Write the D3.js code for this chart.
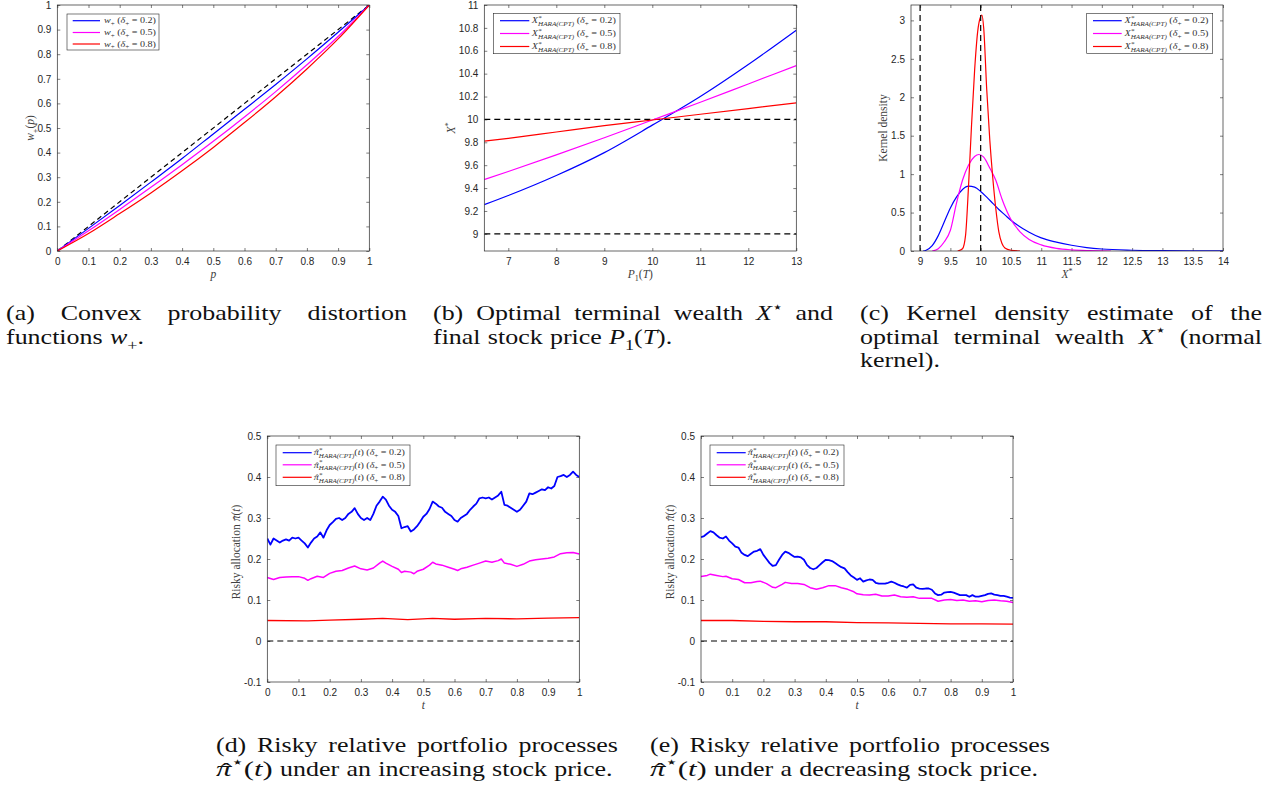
<!DOCTYPE html>
<meta charset="utf-8">
<script src="https://d3js.org/d3.v7.min.js"></script>
<style>
  body { margin: 0; background: #fff; }
</style>
<div id="fig"></div>
<script>

// ---------- data ----------

// (a) convex probability distortion functions
var pGrid = [0, 0.1, 0.2, 0.3, 0.4, 0.5, 0.6, 0.7, 0.8, 0.9, 1];
var wDelta02 = [0, 0.092, 0.185, 0.28, 0.376, 0.476, 0.576, 0.677, 0.781, 0.889, 1];
var wDelta05 = [0, 0.082, 0.169, 0.259, 0.351, 0.446, 0.545, 0.648, 0.757, 0.872, 1];
var wDelta08 = [0, 0.071, 0.152, 0.236, 0.326, 0.421, 0.522, 0.627, 0.74, 0.862, 1];

// (b) optimal terminal wealth vs final stock price
var priceGrid = [6.5, 7, 8, 9, 10, 11, 12, 13];
var wealth02 = [9.255, 9.335, 9.51, 9.71, 9.95, 10.2, 10.48, 10.78];
var wealth05 = [9.475, 9.545, 9.69, 9.84, 9.995, 10.15, 10.31, 10.47];
var wealth08 = [9.81, 9.835, 9.89, 9.945, 9.995, 10.045, 10.095, 10.145];

// (c) kernel density estimates
var kdeX02 = [9.05, 9.1, 9.2, 9.3, 9.4, 9.5, 9.6, 9.7, 9.8, 9.9, 10.0, 10.1, 10.2, 10.3, 10.4, 10.5, 10.6, 10.7, 10.8, 11.0, 11.25, 11.5, 11.75, 12, 12.5, 13, 13.5, 14];
var kdeY02 = [0, 0.01, 0.07, 0.2, 0.38, 0.56, 0.7, 0.8, 0.843, 0.83, 0.775, 0.7, 0.62, 0.54, 0.47, 0.4, 0.34, 0.29, 0.245, 0.17, 0.115, 0.075, 0.045, 0.026, 0.01, 0.004, 0.002, 0.001];
var kdeX05 = [9.2, 9.3, 9.4, 9.5, 9.6, 9.7, 9.8, 9.9, 9.97, 10.05, 10.15, 10.25, 10.35, 10.5, 10.65, 10.8, 11.0, 11.25, 11.5, 11.8, 12.15];
var kdeY05 = [0, 0.03, 0.12, 0.27, 0.62, 0.92, 1.12, 1.23, 1.255, 1.22, 1.08, 0.92, 0.68, 0.41, 0.25, 0.15, 0.08, 0.035, 0.015, 0.005, 0];
var kdeX08 = [9.62, 9.7, 9.75, 9.8, 9.85, 9.9, 9.95, 10.0, 10.02, 10.05, 10.1, 10.15, 10.2, 10.25, 10.3, 10.35, 10.4, 10.5, 10.65];
var kdeY08 = [0, 0.03, 0.2, 0.85, 1.65, 2.35, 2.85, 3.05, 3.07, 2.9, 2.1, 1.45, 0.95, 0.55, 0.25, 0.1, 0.04, 0.01, 0];

// (d) risky allocation, increasing stock price (t = 0, 0.01, ..., 1)
var tSteps = d3.range(101).map(function (i) { return i / 100; });
var upBlue = [
  0.25, 0.235, 0.25, 0.245, 0.24, 0.245, 0.248, 0.245, 0.252, 0.25,
  0.252, 0.245, 0.238, 0.228, 0.24, 0.25, 0.255, 0.265, 0.252, 0.27,
  0.283, 0.29, 0.298, 0.3, 0.295, 0.30, 0.31, 0.315, 0.324, 0.31,
  0.30, 0.295, 0.30, 0.295, 0.31, 0.33, 0.34, 0.352, 0.345, 0.33,
  0.32, 0.315, 0.305, 0.275, 0.278, 0.28, 0.267, 0.272, 0.28, 0.291,
  0.303, 0.31, 0.322, 0.34, 0.335, 0.328, 0.325, 0.315, 0.31, 0.305,
  0.295, 0.291, 0.30, 0.305, 0.31, 0.32, 0.328, 0.335, 0.348, 0.35,
  0.348, 0.35, 0.345, 0.35, 0.355, 0.364, 0.332, 0.33, 0.325, 0.32,
  0.315, 0.32, 0.33, 0.34, 0.36, 0.358, 0.362, 0.366, 0.37, 0.368,
  0.375, 0.372, 0.378, 0.4, 0.402, 0.405, 0.40, 0.405, 0.413, 0.405,
  0.40
];
var upMagentaT = [0, 0.02, 0.04, 0.06, 0.08, 0.10, 0.12, 0.13, 0.14, 0.16, 0.18, 0.20, 0.22, 0.24, 0.26, 0.28, 0.30, 0.32, 0.34, 0.36, 0.37, 0.38, 0.40, 0.42, 0.43, 0.44, 0.46, 0.47, 0.48, 0.50, 0.52, 0.53, 0.54, 0.56, 0.58, 0.60, 0.61, 0.62, 0.64, 0.66, 0.68, 0.70, 0.72, 0.74, 0.75, 0.76, 0.78, 0.80, 0.82, 0.84, 0.86, 0.88, 0.90, 0.92, 0.94, 0.96, 0.98, 1.0];
var upMagenta = [0.155, 0.15, 0.155, 0.156, 0.157, 0.157, 0.153, 0.148, 0.152, 0.158, 0.155, 0.165, 0.17, 0.172, 0.178, 0.183, 0.176, 0.173, 0.178, 0.19, 0.195, 0.19, 0.182, 0.175, 0.167, 0.17, 0.168, 0.164, 0.17, 0.175, 0.185, 0.192, 0.188, 0.185, 0.18, 0.175, 0.172, 0.176, 0.18, 0.185, 0.19, 0.195, 0.192, 0.196, 0.2, 0.19, 0.187, 0.182, 0.187, 0.195, 0.198, 0.2, 0.202, 0.205, 0.213, 0.215, 0.216, 0.212];
var upRedT = [0, 0.13, 0.2, 0.3, 0.37, 0.45, 0.53, 0.6, 0.7, 0.8, 0.9, 1.0];
var upRed = [0.05, 0.049, 0.051, 0.053, 0.055, 0.052, 0.055, 0.053, 0.055, 0.054, 0.056, 0.057];

// (e) risky allocation, decreasing stock price (t = 0, 0.01, ..., 1)
var downBlue = [
  0.253, 0.256, 0.262, 0.268, 0.265, 0.258, 0.252, 0.25, 0.255, 0.245,
  0.238, 0.23, 0.228, 0.215, 0.21, 0.207, 0.213, 0.218, 0.22, 0.224,
  0.21, 0.2, 0.19, 0.183, 0.185, 0.198, 0.21, 0.218, 0.215, 0.21,
  0.205, 0.206, 0.204, 0.198, 0.185, 0.178, 0.175, 0.178, 0.185, 0.192,
  0.198, 0.197, 0.195, 0.19, 0.185, 0.18, 0.177, 0.168, 0.16, 0.155,
  0.149, 0.153, 0.145, 0.148, 0.15, 0.149, 0.142, 0.14, 0.14, 0.14,
  0.142, 0.145, 0.142, 0.138, 0.135, 0.133, 0.13, 0.137, 0.138, 0.13,
  0.128, 0.127, 0.128, 0.128, 0.125, 0.116, 0.112, 0.113, 0.118, 0.119,
  0.12, 0.118, 0.115, 0.112, 0.112, 0.112, 0.108, 0.112, 0.108, 0.108,
  0.11, 0.112, 0.115, 0.116, 0.113, 0.112, 0.11, 0.11, 0.108, 0.106,
  0.105
];
var downMagentaT = [0, 0.02, 0.03, 0.05, 0.07, 0.08, 0.10, 0.12, 0.14, 0.16, 0.18, 0.19, 0.21, 0.23, 0.24, 0.26, 0.27, 0.29, 0.31, 0.33, 0.35, 0.37, 0.39, 0.41, 0.43, 0.45, 0.47, 0.49, 0.50, 0.52, 0.54, 0.56, 0.58, 0.60, 0.62, 0.64, 0.66, 0.68, 0.70, 0.72, 0.74, 0.76, 0.78, 0.80, 0.82, 0.84, 0.86, 0.88, 0.90, 0.92, 0.94, 0.96, 0.98, 1.0];
var downMagenta = [0.157, 0.16, 0.163, 0.16, 0.157, 0.158, 0.152, 0.15, 0.142, 0.142, 0.145, 0.146, 0.14, 0.131, 0.13, 0.138, 0.143, 0.14, 0.14, 0.138, 0.13, 0.126, 0.13, 0.135, 0.135, 0.13, 0.126, 0.12, 0.115, 0.113, 0.112, 0.114, 0.11, 0.11, 0.112, 0.108, 0.107, 0.108, 0.104, 0.104, 0.104, 0.097, 0.1, 0.101, 0.099, 0.1, 0.097, 0.098, 0.096, 0.099, 0.1, 0.098, 0.097, 0.094];
var downRedT = [0, 0.1, 0.2, 0.3, 0.4, 0.5, 0.6, 0.7, 0.8, 0.9, 1.0];
var downRed = [0.05, 0.05, 0.048, 0.047, 0.047, 0.045, 0.044, 0.043, 0.042, 0.042, 0.041];

// tick values and labels
var unitTicks = [0, 0.1, 0.2, 0.3, 0.4, 0.5, 0.6, 0.7, 0.8, 0.9, 1];
var unitTickLabels = ["0", "0.1", "0.2", "0.3", "0.4", "0.5", "0.6", "0.7", "0.8", "0.9", "1"];
var priceTicks = [7, 8, 9, 10, 11, 12, 13];
var priceTickLabels = ["7", "8", "9", "10", "11", "12", "13"];
var wealthTicks = [9, 9.2, 9.4, 9.6, 9.8, 10, 10.2, 10.4, 10.6, 10.8, 11];
var wealthTickLabels = ["9", "9.2", "9.4", "9.6", "9.8", "10", "10.2", "10.4", "10.6", "10.8", "11"];
var kdeXTicks = [9, 9.5, 10, 10.5, 11, 11.5, 12, 12.5, 13, 13.5, 14];
var kdeXTickLabels = ["9", "9.5", "10", "10.5", "11", "11.5", "12", "12.5", "13", "13.5", "14"];
var kdeYTicks = [0, 0.5, 1, 1.5, 2, 2.5, 3];
var kdeYTickLabels = ["0", "0.5", "1", "1.5", "2", "2.5", "3"];
var allocTicks = [-0.1, 0, 0.1, 0.2, 0.3, 0.4, 0.5];
var allocTickLabels = ["-0.1", "0", "0.1", "0.2", "0.3", "0.4", "0.5"];

var deltaLabels = ["0.2", "0.5", "0.8"];

// ---------- drawing ----------

var serif = '"Liberation Serif", "Times New Roman", "DejaVu Serif", serif';
var sans = '"Liberation Sans", Arial, Helvetica, sans-serif';
var blue = "#0000ff", magenta = "#ff00ff", red = "#ff0000";
var axisColor = "#262626";

var svg = d3.select("#fig").append("svg")
    .attr("width", 1282)
    .attr("height", 792)
    .style("background", "#fff");

// parse a tiny markup: $..$ italic, _x / _{..} subscript, ^x / ^{..} superscript
function parseMath(s) {
  var parts = [], it = false, i = 0, buf = "";
  function flush() { if (buf) parts.push({t: buf, pos: null, it: it}); buf = ""; }
  while (i < s.length) {
    var c = s[i];
    if (c === "$") { flush(); it = !it; i++; }
    else if (c === "_" || c === "^") {
      flush();
      var pos = c === "_" ? "sub" : "sup", txt;
      if (s[i + 1] === "{") { var j = s.indexOf("}", i); txt = s.slice(i + 2, j); i = j + 1; }
      else { txt = s[i + 1]; i += 2; }
      parts.push({t: txt, pos: pos, it: it});
    } else { buf += c; i++; }
  }
  flush();
  return parts;
}

function richText(text, str, size) {
  var cur = 0, prev = null, pendingDx = 0;
  parseMath(str).forEach(function (p) {
    var off = p.pos === "sub" ? 0.3 * size : p.pos === "sup" ? -0.38 * size : 0;
    var hasHat = p.t.indexOf("\u0302") >= 0;
    var s = text.append("tspan").text(p.t.replace("\u0302", "")).attr("dy", off - cur);
    cur = off;
    if (p.pos) s.style("font-size", (size * 0.7) + "px");
    s.style("font-style", p.it ? "italic" : "normal");
    var dx = pendingDx;
    pendingDx = 0;
    if (prev && prev.pos === "sup" && p.pos === "sub") {
      dx -= prev.node.getComputedTextLength();
    }
    if (dx) s.attr("dx", dx);
    if (hasHat) {
      // draw the circumflex as its own glyph centred over the base letter
      var bw = s.node().getComputedTextLength();
      var hat = text.append("tspan").text("\u02C6").style("font-style", "normal")
        .attr("dy", 0.12 * size);
      var hw = hat.node().getComputedTextLength();
      hat.attr("dx", -(bw + hw) / 2 + 0.08 * size);
      cur += 0.12 * size;
      pendingDx = (bw - hw) / 2 - 0.08 * size;
    }
    prev = {pos: p.pos, node: s.node()};
  });
  return text;
}

var clipCount = 0;
function makePanel(left, top, xDom, yDom, xTicks, xLabels, yTicks, yLabels) {
  var w = 312, h = 246;
  var g = svg.append("g").attr("transform", "translate(" + left + "," + top + ")");
  var x = d3.scaleLinear().domain(xDom).range([0, w]);
  var y = d3.scaleLinear().domain(yDom).range([h, 0]);
  var id = "clip" + (clipCount++);
  g.append("clipPath").attr("id", id).append("rect").attr("width", w).attr("height", h);

  var style = function (sel) {
    sel.selectAll(".domain").remove();
    sel.selectAll(".tick line").attr("stroke", axisColor).attr("stroke-width", 0.6);
    sel.selectAll(".tick text").attr("fill", axisColor)
      .style("font-family", sans).style("font-size", "10px");
  };

  g.append("g").attr("transform", "translate(0," + h + ")")
    .call(d3.axisBottom(x).tickValues(xTicks).tickFormat(function (d, i) { return xLabels[i]; })
      .tickSizeInner(-3).tickSizeOuter(0).tickPadding(7))
    .call(style);
  g.append("g")
    .call(d3.axisTop(x).tickValues(xTicks).tickFormat("").tickSizeInner(-3).tickSizeOuter(0))
    .call(style);
  g.append("g")
    .call(d3.axisLeft(y).tickValues(yTicks).tickFormat(function (d, i) { return yLabels[i]; })
      .tickSizeInner(-3).tickSizeOuter(0).tickPadding(6))
    .call(style);
  g.append("g").attr("transform", "translate(" + w + ",0)")
    .call(d3.axisRight(y).tickValues(yTicks).tickFormat("").tickSizeInner(-3).tickSizeOuter(0))
    .call(style);

  var plot = g.append("g").attr("clip-path", "url(#" + id + ")");
  g.append("rect").attr("width", w).attr("height", h)
    .attr("fill", "none").attr("stroke", axisColor).attr("stroke-width", 0.7);
  return {g: g, plot: plot, x: x, y: y, w: w, h: h};
}

function drawLine(p, xs, ys, color, width, curve, dash) {
  var line = d3.line()
    .x(function (d) { return p.x(d[0]); })
    .y(function (d) { return p.y(d[1]); })
    .curve(curve || d3.curveLinear);
  var path = p.plot.append("path")
    .datum(d3.zip(xs, ys))
    .attr("d", line)
    .attr("fill", "none")
    .attr("stroke", color)
    .attr("stroke-width", width)
    .attr("stroke-linejoin", "round");
  if (dash) path.attr("stroke-dasharray", dash);
}

function axisLabels(p, xlab, ylab, yOff, yMid) {
  var xt = p.g.append("text")
    .attr("x", p.w / 2).attr("y", p.h + 27)
    .attr("text-anchor", "middle")
    .attr("fill", "#404040")
    .style("font-family", serif).style("font-size", "11.5px");
  richText(xt, xlab, 11.5);
  var yt = p.g.append("text")
    .attr("transform", "translate(" + yOff + "," + (yMid || p.h / 2) + ") rotate(-90)")
    .attr("text-anchor", "middle")
    .attr("fill", "#404040")
    .style("font-family", serif).style("font-size", "11.5px");
  richText(yt, ylab, 11.5);
}

function legend(p, box, line, tx, rows, labels, size, textW) {
  var colors = [blue, magenta, red];
  var lg = p.g.append("g");
  lg.append("rect")
    .attr("x", box[0]).attr("y", box[1]).attr("width", box[2]).attr("height", box[3])
    .attr("fill", "#fff").attr("stroke", axisColor).attr("stroke-width", 0.6);
  labels.forEach(function (lab, i) {
    lg.append("line")
      .attr("x1", line[0]).attr("x2", line[1]).attr("y1", rows[i]).attr("y2", rows[i])
      .attr("stroke", colors[i]).attr("stroke-width", 1.2);
    var t = lg.append("text")
      .attr("x", tx).attr("y", rows[i] + size * 0.3)
      .attr("fill", "#333")
      .style("font-family", serif).style("font-size", size + "px");
    richText(t, lab, size);
    if (textW) t.attr("textLength", textW).attr("lengthAdjust", "spacingAndGlyphs");
  });
}

// captions: glyphs widened a little to mimic the wider Computer Modern face
function caption(x0, y0, width, lines, size, lineH) {
  var stretch = 1.18;
  lines.forEach(function (ln, li) {
    var words = ln.split(" ");
    var nodes = words.map(function (wd) {
      var t = svg.append("text").attr("y", y0 + li * lineH).attr("fill", "#111")
        .style("font-family", serif).style("font-size", size + "px");
      richText(t, wd, size);
      return t;
    });
    var widths = nodes.map(function (n) {
      var wv = n.node().getComputedTextLength() * stretch;
      n.attr("textLength", wv).attr("lengthAdjust", "spacingAndGlyphs");
      return wv;
    });
    var gap = size * 0.33;
    if (li < lines.length - 1 && words.length > 1) {
      gap = (width - d3.sum(widths)) / (words.length - 1);
    }
    var cx = x0;
    nodes.forEach(function (n, i) { n.attr("x", cx); cx += widths[i] + gap; });
  });
}

// (a)
var pa = makePanel(57.3, 5, [0, 1], [0, 1], unitTicks, unitTickLabels, unitTicks, unitTickLabels);
drawLine(pa, [0, 1], [0, 1], "#000", 1.2, null, "5,3.5");
drawLine(pa, pGrid, wDelta02, blue, 1.2, d3.curveMonotoneX);
drawLine(pa, pGrid, wDelta05, magenta, 1.2, d3.curveMonotoneX);
drawLine(pa, pGrid, wDelta08, red, 1.2, d3.curveMonotoneX);
legend(pa, [9.7, 9, 92, 36], [15.4, 42.7], 46.7, [15.7, 27.5, 39],
  deltaLabels.map(function (d) { return "$w$_+ ($δ$_+ = " + d + ")"; }), 9, 52);
axisLabels(pa, "$p$", "$w$_+($p$)", -23);

// (b)
var pb = makePanel(484.3, 5, [6.5, 13], [8.85, 11], priceTicks, priceTickLabels, wealthTicks, wealthTickLabels);
drawLine(pb, [6.5, 13], [10, 10], "#000", 1.2, null, "6,4");
drawLine(pb, [6.5, 13], [9, 9], "#000", 1.2, null, "6,4");
drawLine(pb, priceGrid, wealth02, blue, 1.2, d3.curveMonotoneX);
drawLine(pb, priceGrid, wealth05, magenta, 1.2, d3.curveMonotoneX);
drawLine(pb, priceGrid, wealth08, red, 1.2, d3.curveMonotoneX);
legend(pb, [9, 8.3, 126.7, 40.4], [15.7, 45], 47.5, [15.7, 28.5, 41.5],
  deltaLabels.map(function (d) { return "$X^*_{HARA(CPT)}$ ($δ$_+ = " + d + ")"; }), 9, 84);
axisLabels(pb, "$P$_1($T$)", "$X$^*", -29);

// (c)
var pc = makePanel(911, 5, [8.85, 14], [0, 3.2], kdeXTicks, kdeXTickLabels, kdeYTicks, kdeYTickLabels);
drawLine(pc, kdeX02, kdeY02, blue, 1.2, d3.curveMonotoneX);
drawLine(pc, kdeX05, kdeY05, magenta, 1.2, d3.curveMonotoneX);
drawLine(pc, kdeX08, kdeY08, red, 1.2, d3.curveMonotoneX);
drawLine(pc, [9, 9], [0, 3.2], "#000", 1.2, null, "6,4");
drawLine(pc, [10, 10], [0, 3.2], "#000", 1.2, null, "6,4");
legend(pc, [175.7, 8.3, 126, 40], [182, 210.7], 213.5, [15.7, 28.5, 41.5],
  deltaLabels.map(function (d) { return "$X^*_{HARA(CPT)}$ ($δ$_+ = " + d + ")"; }), 9, 84);
axisLabels(pc, "$X$^*", "Kernel density", -24.5);

// (d)
var pd = makePanel(267.3, 436, [0, 1], [-0.1, 0.5], unitTicks, unitTickLabels, allocTicks, allocTickLabels);
drawLine(pd, [0, 1], [0, 0], "#000", 1.2, null, "6,4");
drawLine(pd, tSteps, upBlue, blue, 1.8);
drawLine(pd, upMagentaT, upMagenta, magenta, 1.5);
drawLine(pd, upRedT, upRed, red, 1.3);
legend(pd, [8.7, 9, 134, 40.7], [15.4, 44.4], 46.5, [16.7, 28.8, 41.3],
  deltaLabels.map(function (d) { return "$π̂^*_{HARA(CPT)}$($t$) ($δ$_+ = " + d + ")"; }), 9, 91);
axisLabels(pd, "$t$", "Risky allocation $π̂$($t$)", -27, 116);

// (e)
var pe = makePanel(701, 436, [0, 1], [-0.1, 0.5], unitTicks, unitTickLabels, allocTicks, allocTickLabels);
drawLine(pe, [0, 1], [0, 0], "#000", 1.2, null, "6,4");
drawLine(pe, tSteps, downBlue, blue, 1.8);
drawLine(pe, downMagentaT, downMagenta, magenta, 1.5);
drawLine(pe, downRedT, downRed, red, 1.3);
legend(pe, [9, 9, 134, 40.7], [15.7, 44.7], 46.8, [16.7, 28.8, 41.3],
  deltaLabels.map(function (d) { return "$π̂^*_{HARA(CPT)}$($t$) ($δ$_+ = " + d + ")"; }), 9, 91);
axisLabels(pe, "$t$", "Risky allocation $π̂$($t$)", -27, 116);

// captions
caption(6, 320, 401, ["(a) Convex probability distortion", "functions $w$_+."], 22, 23.5);
caption(433, 320, 400, ["(b) Optimal terminal wealth $X$^⋆ and", "final stock price $P$_1($T$)."], 22, 23.5);
caption(860, 320, 402, ["(c) Kernel density estimate of the", "optimal terminal wealth $X$^⋆ (normal", "kernel)."], 22, 23.5);
caption(216, 752, 402, ["(d) Risky relative portfolio processes", "$π̂$^⋆($t$) under an increasing stock price."], 22, 23.5);
caption(650, 752, 400, ["(e) Risky relative portfolio processes", "$π̂$^⋆($t$) under a decreasing stock price."], 22, 23.5);

</script>
